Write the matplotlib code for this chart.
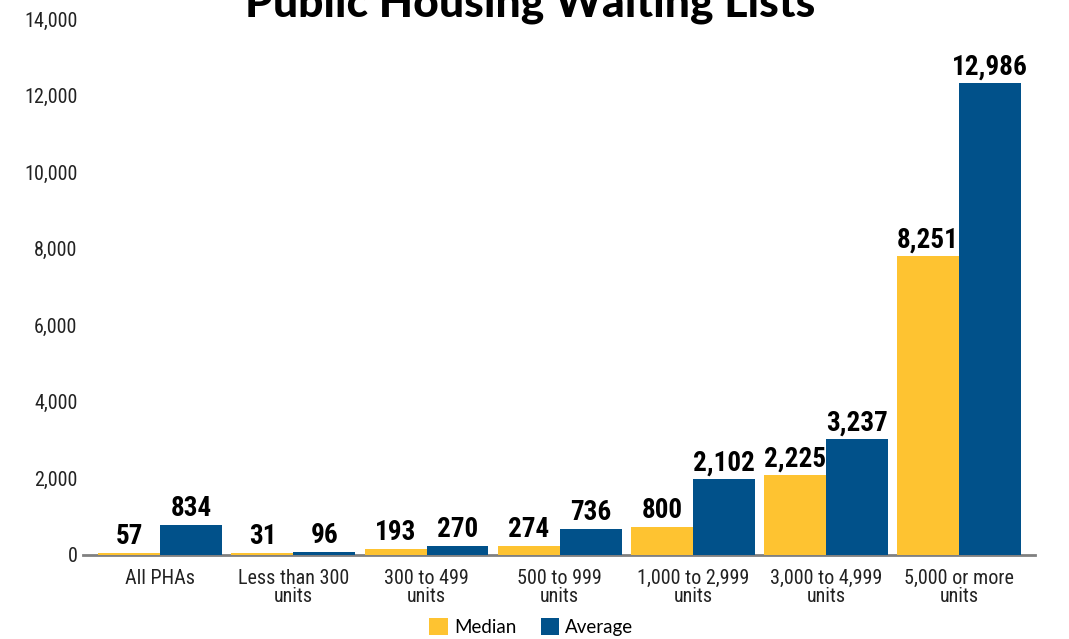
import matplotlib.pyplot as plt
import numpy as np

# categories and values
categories = ['All PHAs', 'Less than 300\nunits', '300 to 499\nunits', '500 to 999\nunits',
              '1,000 to 2,999\nunits', '3,000 to 4,999\nunits', '5,000 or more\nunits']
median_labels = ['57', '31', '193', '274', '800', '2,225', '8,251']
average_labels = ['834', '96', '270', '736', '2,102', '3,237', '12,986']
# bar heights as drawn against the printed axis
median_bars = [55, 45, 157, 235, 731, 2089, 7809]
average_bars = [783, 80, 235, 679, 1985, 3030, 12327]
yticks = [0, 2000, 4000, 6000, 8000, 10000, 12000, 14000]

yellow = '#FEC331'
blue = '#01518A'
cond = 'Roboto Condensed'

fig = plt.figure(figsize=(10.69, 6.39), dpi=100)
ax = fig.add_axes([83 / 1069, 1 - 555 / 639, (1035 - 83) / 1069, (555 - 19) / 639])

x = np.arange(len(categories))
w = 0.465
b1 = ax.bar(x - w / 2, median_bars, w, color=yellow, label='Median', zorder=3)
b2 = ax.bar(x + w / 2, average_bars, w, color=blue, label='Average', zorder=3)

for bars, labels in [(b1, median_labels), (b2, average_labels)]:
    for bar, lab in zip(bars, labels):
        ax.annotate(lab, (bar.get_x() + bar.get_width() / 2, bar.get_height()),
                    xytext=(0, 2), textcoords='offset points', ha='center', va='bottom',
                    fontsize=19.5, fontweight='bold', family=cond)

ax.set_xlim(-0.58, 6.57)
ax.set_ylim(0, 14000)
ax.set_yticks(yticks)
ax.set_yticklabels([f'{v:,}' for v in yticks], family=cond, fontsize=14.5, color='#222222')
ax.set_xticks(x)
ax.set_xticklabels(categories, family=cond, fontsize=14.5, color='#222222', linespacing=0.95)
ax.tick_params(axis='both', length=0)
ax.tick_params(axis='y', pad=4)
ax.tick_params(axis='x', pad=10)

for s in ['top', 'right', 'left']:
    ax.spines[s].set_visible(False)
ax.spines['bottom'].set_color('#808080')
ax.spines['bottom'].set_linewidth(2)

fig.text(0.496, 1 - 16 / 639, 'Public Housing Waiting Lists', ha='center', va='baseline',
         fontsize=32, fontweight='black', family='Lato')

fig.legend(handles=[b1, b2], loc='center', bbox_to_anchor=(0.497, 1 - 627 / 639), ncol=2,
           frameon=False, handlelength=1.0, handleheight=1.0, handletextpad=0.3,
           columnspacing=1.3, prop={'family': 'Lato', 'size': 13.5})

fig.savefig('out.png', dpi=100)
